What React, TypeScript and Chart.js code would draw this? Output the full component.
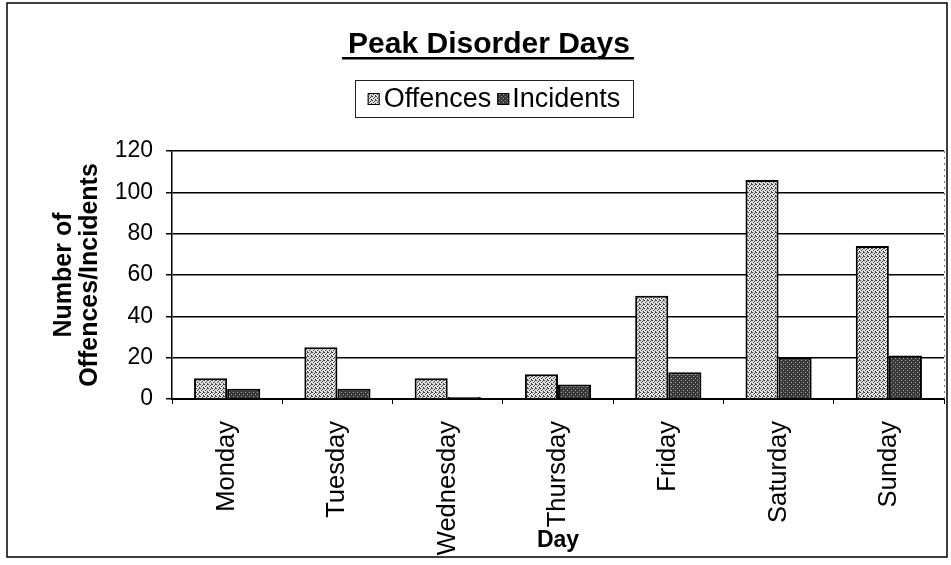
import React, { useEffect, useRef } from "react";
import { Chart, registerables } from "chart.js";

Chart.register(...registerables);

const chartTitle = "Peak Disorder Days";
const days = ["Monday", "Tuesday", "Wednesday", "Thursday", "Friday", "Saturday", "Sunday"];
const offences = [10, 25, 10, 12, 50, 106, 74];
const incidents = [5, 5, 1, 7, 13, 20, 21];
const seriesNames = ["Offences", "Incidents"];
const yTicks = [0, 20, 40, 60, 80, 100, 120];
const yAxisTitle = ["Number of", "Offences/Incidents"];
const xAxisTitle = "Day";

const FONT = "'Liberation Sans', Arial, sans-serif";

function makePattern(bg: string, fg: string, size: number, dots: number[][]) {
  const c = document.createElement("canvas");
  c.width = size;
  c.height = size;
  const g = c.getContext("2d")!;
  g.fillStyle = bg;
  g.fillRect(0, 0, size, size);
  g.fillStyle = fg;
  dots.forEach(([x, y]) => g.fillRect(x, y, 1, 1));
  const ctx = document.createElement("canvas").getContext("2d")!;
  return ctx.createPattern(c, "repeat") as CanvasPattern;
}

const decorPlugin = {
  id: "decor",
  afterDraw(chart: any) {
    const { ctx, chartArea } = chart;
    ctx.save();
    // outer frame
    ctx.strokeStyle = "#000";
    ctx.lineWidth = 1.5;
    ctx.strokeRect(7, 3, 940, 554);
    // right border of plot area (dashed)
    ctx.setLineDash([2, 4]);
    ctx.strokeStyle = "#777";
    ctx.lineWidth = 1;
    ctx.beginPath();
    ctx.moveTo(chartArea.right + 0.5, chartArea.top);
    ctx.lineTo(chartArea.right + 0.5, chartArea.bottom);
    ctx.stroke();
    ctx.setLineDash([]);

    // title with underline
    ctx.fillStyle = "#000";
    ctx.font = `bold 30px ${FONT}`;
    ctx.textAlign = "center";
    ctx.textBaseline = "alphabetic";
    const cx = 489;
    ctx.fillText(chartTitle, cx, 53);
    const tw = ctx.measureText(chartTitle).width;
    ctx.fillRect(cx - tw / 2 - 6, 57, tw + 10, 2.5);

    // legend
    const ds = chart.data.datasets;
    ctx.font = `27px ${FONT}`;
    const sw = 12;
    const w0 = ctx.measureText(ds[0].label).width;
    const w1 = ctx.measureText(ds[1].label).width;
    const total = sw + 4 + w0 + 6 + sw + 3 + w1;
    const lcx = 494;
    let x = lcx - total / 2;
    const ly = 99;
    ctx.strokeStyle = "#222";
    ctx.lineWidth = 1;
    ctx.strokeRect(355.5, 80.5, 278, 37);
    ctx.textAlign = "left";
    ctx.textBaseline = "middle";
    ds.forEach((d: any, i: number) => {
      ctx.fillStyle = d.backgroundColor;
      ctx.fillRect(x, ly - sw / 2, sw, sw);
      ctx.strokeStyle = "#000";
      ctx.strokeRect(x + 0.5, ly - sw / 2 + 0.5, sw - 1, sw - 1);
      x += sw + (i === 0 ? 4 : 3);
      ctx.fillStyle = "#000";
      ctx.fillText(d.label, x, ly + 1);
      x += (i === 0 ? w0 : w1) + 6;
    });
    ctx.restore();
  },
};

export default function App() {
  const ref = useRef<HTMLCanvasElement>(null);
  useEffect(() => {
    if (!ref.current) return;
    const offPat = makePattern("#e0e0e0", "#444", 4, [[0, 0], [2, 1], [1, 2], [3, 3], [3, 0]]);
    const incPat = makePattern("#383838", "#a8a8a8", 4, [[1, 0], [3, 2]]);
    const chart = new Chart(ref.current, {
      type: "bar",
      data: {
        labels: days,
        datasets: [
          {
            label: seriesNames[0],
            data: offences,
            backgroundColor: offPat as any,
            borderColor: "#000",
            borderWidth: 2,
            categoryPercentage: 0.6,
            barPercentage: 1,
          },
          {
            label: seriesNames[1],
            data: incidents,
            backgroundColor: incPat as any,
            borderColor: "#000",
            borderWidth: 2,
            categoryPercentage: 0.6,
            barPercentage: 1,
          },
        ],
      },
      options: {
        responsive: false,
        animation: false,
        devicePixelRatio: 1,
        layout: { padding: { left: 0, right: 7, top: 151, bottom: 0 } },
        plugins: {
          legend: { display: false },
          title: { display: false },
          tooltip: { enabled: false },
        },
        scales: {
          x: {
            afterFit: (s: any) => {
              s.height = 166;
            },
            grid: {
              display: true,
              drawOnChartArea: false,
              drawTicks: true,
              tickLength: 5,
              color: "#000",
              lineWidth: 1,
            },
            border: { display: true, color: "#000", width: 2 },
            ticks: {
              color: "#000",
              font: { family: FONT, size: 25.5 },
              minRotation: 90,
              maxRotation: 90,
              padding: 17,
              autoSkip: false,
            },
            title: {
              display: true,
              text: xAxisTitle,
              color: "#000",
              font: { family: FONT, size: 23, weight: "bold" },
              padding: { top: 0, bottom: 11 },
            },
          },
          y: {
            min: yTicks[0],
            max: yTicks[yTicks.length - 1],
            afterFit: (s: any) => {
              s.width = 172;
            },
            afterBuildTicks: (s: any) => {
              s.ticks = yTicks.map((v) => ({ value: v }));
            },
            grid: {
              color: "#000",
              lineWidth: 1.5,
              drawTicks: true,
              tickLength: 6,
            },
            border: { display: true, color: "#000", width: 1.5 },
            ticks: {
              color: "#000",
              font: { family: FONT, size: 23 },
              padding: 13,
            },
            title: {
              display: true,
              text: yAxisTitle,
              color: "#000",
              font: { family: FONT, size: 25, weight: "bold", lineHeight: 1.04 },
              padding: { top: 51, bottom: 0 },
            },
          },
        },
      },
      plugins: [decorPlugin],
    });
    return () => chart.destroy();
  }, []);
  return (
    <div style={{ position: "absolute", left: 0, top: 0, width: 951, height: 565, background: "#fff" }}>
      <canvas ref={ref} width={951} height={565} style={{ display: "block", width: 951, height: 565 }} />
    </div>
  );
}
